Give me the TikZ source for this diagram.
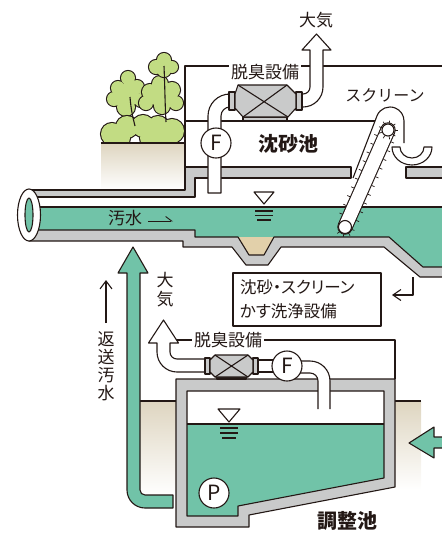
\documentclass[tikz,border=0pt]{standalone}
\usepackage{fontspec}
\setmainfont{Noto Sans CJK JP}
\newfontfamily\jpprop[RawFeature=+palt]{Noto Sans CJK JP}
\usetikzlibrary{arrows.meta}

\definecolor{ink}{RGB}{35,24,21}
\definecolor{wall}{RGB}{201,202,202}
\definecolor{water}{RGB}{113,195,168}
\definecolor{leaf}{RGB}{194,220,131}
\definecolor{sand}{RGB}{226,208,170}
\definecolor{soil}{RGB}{222,213,192}

% a bushy outline: dark disks first, then the leaf disks over them
\newcommand\leafblob[1]{%
  \foreach \cx/\cy/\cr in {#1} {\fill[ink] (\cx,\cy) circle[radius=\cr+1.1];}%
  \foreach \cx/\cy/\cr in {#1} {\fill[leaf] (\cx,\cy) circle[radius=\cr];}%
}

\begin{document}
\begin{tikzpicture}[x=1pt,y=-1pt,line join=round,
  line/.style={draw=ink,line width=1.1pt},
  wallfill/.style={line,fill=wall},
  pipe/.style={line,fill=white},
  tick/.style={draw=ink,line width=0.7pt},
  lbl/.style={font=\fontsize{17}{20}\selectfont,text=ink,inner sep=1pt},
  boxlbl/.style={font=\jpprop\fontsize{16.5}{24}\selectfont,text=ink},
  title/.style={font=\bfseries\fontsize{20}{22}\selectfont,text=ink,inner sep=1pt},
  badge/.style={circle,line,fill=white,minimum size=30pt,inner sep=0pt,
    font=\fontsize{21}{21}\selectfont,text=ink},
  barb/.style={-{Straight Barb[length=8pt,width=12pt]}}]

\useasboundingbox (0,0) rectangle (442,542);
\clip (0,0) rectangle (442,542);

% ---------- ground and trees beside the grit chamber ----------
\shade[top color=soil,bottom color=white] (101,143) rectangle (185,190);
\leafblob{128/78/7,118/88/7,137/87/7,114/99/7,141/100/7,126/107/9,127/95/12}
\leafblob{160/84/8,150/92/8,172/90/8,146/103/7,176/103/7,162/106/8,162/96/12}
\leafblob{164/60/7,156/67/7,172/67/6,164/70/7,164/65/8}
\begin{scope}
  \clip (90,40) rectangle (190,143);
  \leafblob{112/134/11,127/127/11,143/126/11,158/127/11,172/131/12,120/138/10,150/138/10,168/138/10}
\end{scope}
\draw[line] (130,97) .. controls (131,110) and (133,118) .. (135,126);
\draw[line] (164,66) .. controls (165,90) and (165,105) .. (166,122);
\draw[line] (101,143) -- (185,143);

% ---------- building outline above the grit chamber ----------
\draw[line] (185,167) -- (185,66) -- (446,66);
\draw[line] (185,121) -- (375,121);

% ---------- grit chamber channel ----------
\fill[water] (29,207) -- (446,207) -- (446,267) -- (423,267) -- (389,237)
  -- (195,237) -- (195,230) -- (29,230) -- cycle;
\fill[sand] (238,237) -- (274,237) -- (264,255) -- (249,255) -- cycle;
\draw[wallfill] (185,167) -- (351,167) -- (351,178) -- (195,178) -- (195,197)
  -- (29,197) -- (29,190) -- (185,190) -- cycle;
\draw[wallfill] (406,167) rectangle (446,178);
\draw[wallfill] (29,230) -- (195,230) -- (195,237) -- (238,237) -- (249,255)
  -- (264,255) -- (274,237) -- (389,237) -- (423,267) -- (446,267) -- (446,277)
  -- (420,277) -- (384,247) -- (281,247) -- (268,265) -- (246,265) -- (232,247)
  -- (183,247) -- (183,241) -- (29,241) -- cycle;
\draw[line] (29,207) -- (446,207);

% water level mark
\draw[line,fill=white] (254,192) -- (274,192) -- (264,204) -- cycle;
\draw[line] (255,211) -- (273,211) (255,215.5) -- (273,215.5) (257,220) -- (271,220);

% open pipe end
\draw[line,fill=white] (29,215) ellipse [x radius=11.5,y radius=26];
\draw[line,fill=water] (29,215) ellipse [x radius=4,y radius=17];

% ---------- screen ----------
\draw[line] (353,178) -- (377.1,115.6) arc[start angle=202.6,end angle=360,radius=14] -- (404,143);
\draw[ink,line width=15.4pt,line cap=round] (345,227) -- (388,130);
\draw[white,line width=13.2pt,line cap=round] (345,227) -- (388,130);
\foreach \t in {0.10,0.19,0.28,0.37,0.46,0.55,0.64,0.73,0.82,0.91}{
  \draw[tick] ({345+43*\t+7.7*0.914},{227-97*\t+7.7*0.405}) -- ++({3*0.914},{3*0.405});
  \draw[tick] ({345+43*\t-7.7*0.914},{227-97*\t-7.7*0.405}) -- ++({-3*0.914},{-3*0.405});
}
\node[circle,line,fill=white,minimum size=13pt,inner sep=0pt] (rollLow) at (345,227) {};
\node[circle,line,fill=white,minimum size=12pt,inner sep=0pt] (rollTop) at (388,130) {};
\foreach \a in {0,40,...,320}
  \draw[tick] ({388+6.5*cos(\a)},{130+6.5*sin(\a)}) -- ({388+9.5*cos(\a)},{130+9.5*sin(\a)});
\foreach \a in {20,60,100,140}
  \draw[tick] ({345+7*cos(\a)},{227+7*sin(\a)}) -- ({345+10*cos(\a)},{227+10*sin(\a)});
\draw[pipe] (392,147) arc[start angle=180,end angle=0,x radius=20,y radius=18]
  -- (424,147) arc[start angle=0,end angle=180,x radius=12,y radius=11] -- cycle;

% ---------- deodorizing line of the grit chamber ----------
\draw[pipe] (208,193) -- (208,116) arc[start angle=180,end angle=270,radius=22] -- (231,94)
  -- (231,107) -- (230,107) arc[start angle=270,end angle=180,radius=9] -- (221,193) -- cycle;
\draw[pipe] (301,94) -- (303,94) arc[start angle=90,end angle=0,radius=7] -- (310,50)
  -- (302,50) -- (316.5,34) -- (331,50) -- (323,50) -- (323,87)
  arc[start angle=0,end angle=90,radius=20] -- (301,107) -- cycle;
\draw[wallfill] (229,92) rectangle (235,110);
\draw[wallfill] (296,92) rectangle (302,110);
\draw[wallfill] (243,117) rectangle (287,121);
\draw[wallfill] (238,85) -- (287,85) -- (296,94) -- (296,108) -- (288,117) -- (243,117)
  -- (235,108) -- (235,94) -- cycle;
\draw[line] (238,85) -- (288,117) (287,85) -- (243,117);
\node[badge] (fanTop) at (216,143) {F};

\node[lbl] (airTop) at (316,20) {大気};
\node[lbl,fill=white,inner xsep=2pt] (deoTop) at (265,72) {脱臭設備};
\node[lbl,font=\fontsize{16}{18}\selectfont] (screenLbl) at (385,95) {スクリーン};
\node[title] (gritLbl) at (288,144) {沈砂池};
\node[lbl] (sewLbl) at (125,218) {汚水};
\draw[line,line width=0.9pt,-{Straight Barb[left,length=6pt,width=9pt]}] (148,221) -- (173,221);

% washing unit
\node[line,boxlbl,fill=white,minimum width=148pt,minimum height=53pt,text width=134pt,
  align=left,inner xsep=7pt] (wash) at (307,299.5) {沈砂・スクリーン\\かす洗浄設備};
\coordinate (washIn) at (392,295);
\draw[line,-{Straight Barb[length=8pt,width=11pt]}] (413,277) |- (washIn);

% ---------- returned sewage ----------
\draw[line,barb] (106,323) -- (106,280);
\node[lbl] (rt1) at (106,339) {返};
\node[lbl] (rt2) at (106,357) {送};
\node[lbl] (rt3) at (106,375) {汚};
\node[lbl] (rt4) at (106,393) {水};

\shade[top color=soil,bottom color=white] (140,401) rectangle (176,495);
\draw[line] (140,401) -- (176,401);
\shade[top color=soil,bottom color=white] (395,401) rectangle (421,490);
\draw[line] (395,401) -- (421,401);

\draw[line,fill=water] (133,247) -- (148,273) -- (140,273) -- (140,490)
  arc[start angle=180,end angle=90,radius=5] -- (173,495) -- (173,508) -- (145,508)
  arc[start angle=90,end angle=180,radius=18] -- (127,273) -- (118,273) -- cycle;

% ---------- equalization tank ----------
\draw[line] (172,340) -- (395,340) -- (395,379);
\fill[water] (187,424) -- (384,424) -- (384,478) -- (238,506) -- (238,516) -- (187,516) -- cycle;
\draw[wallfill,even odd rule] (176,379) -- (395,379) -- (395,487) -- (249,515) -- (249,527)
  -- (176,527) -- cycle (187,391) -- (384,391) -- (384,478) -- (238,506) -- (238,516)
  -- (187,516) -- cycle;
\draw[line] (187,424) -- (384,424);
\draw[line,fill=white] (218,409) -- (240,409) -- (229,422) -- cycle;
\draw[line] (220,428) -- (238,428) (220,433) -- (238,433) (222,438) -- (236,438);
\node[badge] (pump) at (214,493) {P};

\draw[line,fill=water] (409,443) -- (434,427) -- (434,437) -- (446,437) -- (446,448)
  -- (434,448) -- (434,458) -- cycle;

% deodorizing line of the tank
\fill[white] (318,409) -- (318,381) arc[start angle=0,end angle=-90,radius=8] -- (300,373)
  -- (300,361) -- (310,361) arc[start angle=-90,end angle=0,radius=20] -- (330,409) -- cycle;
\draw[line] (318,409) -- (318,381) arc[start angle=0,end angle=-90,radius=8] -- (300,373);
\draw[line] (300,361) -- (310,361) arc[start angle=-90,end angle=0,radius=20] -- (330,409);
\draw[pipe] (255,360) rectangle (274,372);
\draw[pipe] (207,359) -- (177,359) arc[start angle=90,end angle=180,radius=7] -- (170,343)
  -- (178.5,343) -- (163.5,320) -- (148.5,343) -- (157,343) -- (157,352)
  arc[start angle=180,end angle=90,radius=20] -- (207,372) -- cycle;
\draw[wallfill] (205,358) rectangle (210,374);
\draw[wallfill] (253,358) rectangle (258,374);
\draw[wallfill] (217,377) rectangle (246,379);
\draw[wallfill] (215,355) -- (248,355) -- (253,360) -- (253,372) -- (248,377) -- (215,377)
  -- (210,372) -- (210,360) -- cycle;
\draw[line] (215,355) -- (248,377) (248,355) -- (215,377);
\node[badge] (fanLow) at (287,366) {F};

\node[lbl] (air1) at (165,280) {大};
\node[lbl] (air2) at (165,299) {気};
\node[lbl,fill=white,inner xsep=2pt] (deoLow) at (228,340) {脱臭設備};
\node[title] (tankLbl) at (347,521) {調整池};

\end{tikzpicture}
\end{document}
